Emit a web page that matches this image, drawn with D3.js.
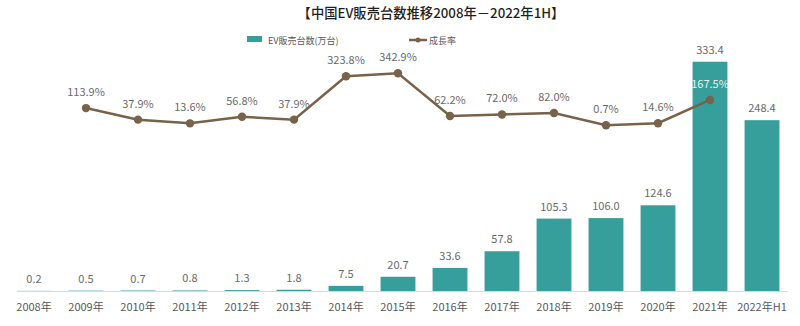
<!DOCTYPE html>
<html>
<head>
<meta charset="utf-8">
<script src="https://cdn.jsdelivr.net/npm/d3@7"></script>
<style>
  html, body { margin: 0; padding: 0; background: #fff; }
  svg { display: block; font-family: "Noto Sans CJK JP", "Noto Sans", sans-serif; }
</style>
</head>
<body>
<svg id="chart" width="800" height="326"></svg>
<script>
// Years on the x axis
const categories = ["2008年","2009年","2010年","2011年","2012年","2013年","2014年","2015年","2016年","2017年","2018年","2019年","2020年","2021年","2022年H1"];
// EV sales, 10k units
const sales = [0.2, 0.5, 0.7, 0.8, 1.3, 1.8, 7.5, 20.7, 33.6, 57.8, 105.3, 106.0, 124.6, 333.4, 248.4];
// Year-on-year growth rate (%), none for the first year or the half-year
const growth = [null, 113.9, 37.9, 13.6, 56.8, 37.9, 323.8, 342.9, 62.2, 72.0, 82.0, 0.7, 14.6, 167.5, null];

const barColor = "#369e9b";
const lineColor = "#78624a";
const labelColor = "#6a6a6a";
const svg = d3.select("#chart");

const x = d3.scaleBand().domain(categories).range([8, 788]).paddingInner(0.33).paddingOuter(0.165);
const yBar = d3.scaleLinear().domain([0, 350]).range([291, 50.3]);
const yLine = d3.scaleLinear().domain([0, 400]).range([125.4, 64.6]);

// Title
svg.append("text")
  .attr("x", 431).attr("y", 18)
  .attr("text-anchor", "middle")
  .attr("font-size", 13.3).attr("font-weight", 500)
  .attr("fill", "#1f1f1f")
  .text("【中国EV販売台数推移2008年－2022年1H】");

// Legend
const lg = svg.append("g").attr("font-size", 9).attr("fill", "#595959");
lg.append("rect").attr("x", 247).attr("y", 36).attr("width", 15).attr("height", 6).attr("fill", barColor);
lg.append("text").attr("x", 268).attr("y", 44).text("EV販売台数(万台)");
lg.append("line").attr("x1", 409).attr("x2", 427).attr("y1", 40).attr("y2", 40)
  .attr("stroke", lineColor).attr("stroke-width", 2.5);
lg.append("circle").attr("cx", 418).attr("cy", 40).attr("r", 2.5).attr("fill", lineColor);
lg.append("text").attr("x", 429).attr("y", 44).text("成長率");

// Bars
svg.append("g").selectAll("rect").data(sales).join("rect")
  .attr("x", (d, i) => x(categories[i]))
  .attr("width", x.bandwidth())
  .attr("y", d => yBar(d))
  .attr("height", d => yBar(0) - yBar(d))
  .attr("fill", barColor);

// Baseline and category labels
const xAxis = svg.append("g").attr("transform", `translate(0,${yBar(0)})`)
  .call(d3.axisBottom(x).tickSize(0).tickPadding(12));
xAxis.select(".domain").attr("stroke", "#d9d9d9").attr("d", "M17,0.5H788");
xAxis.selectAll("text").attr("font-size", 11).attr("fill", "#595959")
  .attr("font-family", "\"Noto Sans CJK JP\", sans-serif");

// Bar value labels
svg.append("g").selectAll("text").data(sales).join("text")
  .attr("x", (d, i) => x(categories[i]) + x.bandwidth() / 2)
  .attr("y", d => yBar(d) - 8)
  .attr("text-anchor", "middle")
  .attr("font-size", 11).attr("fill", labelColor)
  .text(d => d.toFixed(1));

// Growth line
const pts = growth.map((g, i) => ({ g, c: categories[i] })).filter(p => p.g !== null);
const cx = p => x(p.c) + x.bandwidth() / 2;
svg.append("path").datum(pts)
  .attr("d", d3.line().x(cx).y(p => yLine(p.g)))
  .attr("fill", "none").attr("stroke", lineColor).attr("stroke-width", 2.5);
svg.append("g").selectAll("circle").data(pts).join("circle")
  .attr("cx", cx).attr("cy", p => yLine(p.g)).attr("r", 4.2).attr("fill", lineColor);

// Growth labels (light text where it sits on a bar)
svg.append("g").selectAll("text").data(pts).join("text")
  .attr("x", cx)
  .attr("y", p => yLine(p.g) - 12)
  .attr("text-anchor", "middle")
  .attr("font-size", 11)
  .attr("fill", p => yLine(p.g) - 12 > yBar(sales[categories.indexOf(p.c)]) ? "#e6f3f2" : labelColor)
  .text(p => p.g.toFixed(1) + "%");
</script>
</body>
</html>
